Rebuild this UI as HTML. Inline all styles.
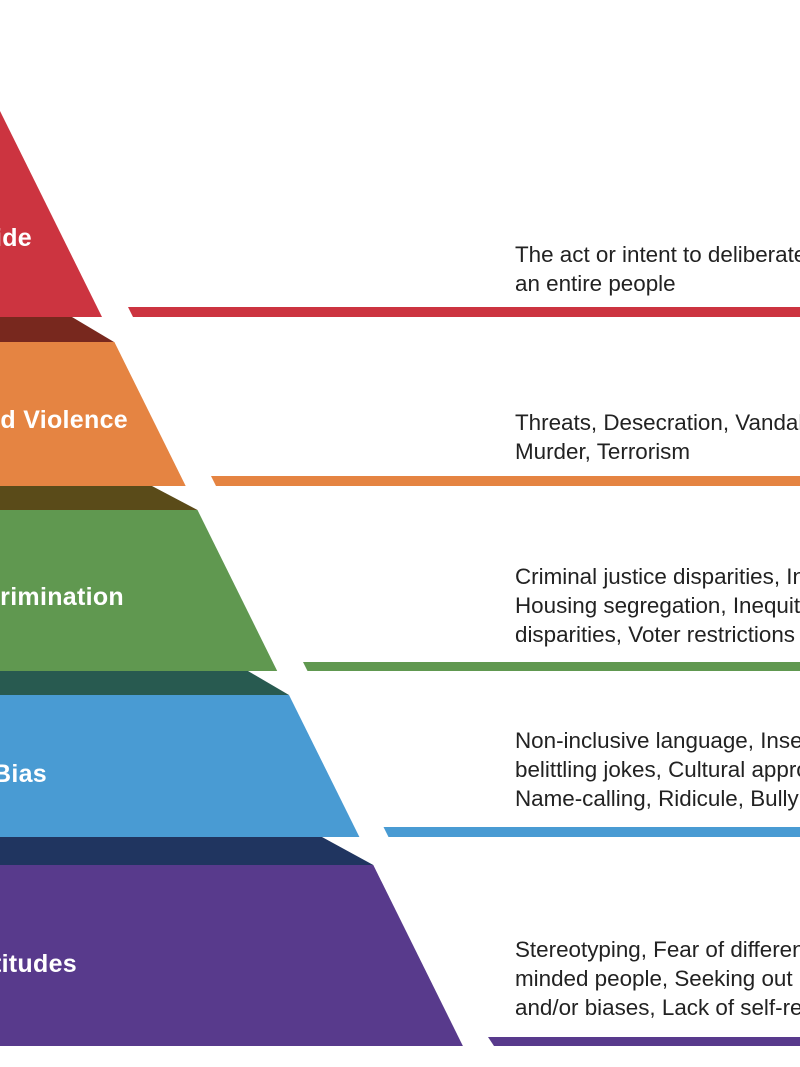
<!DOCTYPE html>
<html>
<head>
<meta charset="utf-8">
<style>
  html,body{margin:0;padding:0;background:#fff;}
  body{width:800px;height:1067px;overflow:hidden;}
  svg{display:block;}
  .lbl{font-family:"Liberation Sans",Arial,sans-serif;font-weight:bold;font-size:25px;letter-spacing:0.3px;fill:#ffffff;}
  .txt{font-family:"Liberation Sans",Arial,sans-serif;font-size:22.4px;fill:#222222;}
</style>
</head>
<body>
<svg width="800" height="1067" viewBox="0 0 800 1067" xmlns="http://www.w3.org/2000/svg">
  <rect x="0" y="0" width="800" height="1067" fill="#ffffff"/>

  <!-- Tier 1: red -->
  <polygon points="0,111 102,317 0,317" fill="#cc3440"/>
  <polygon points="0,317 72,317 114,342 0,342" fill="#78281e"/>
  <!-- Tier 2: orange -->
  <polygon points="0,342 114.4,342 185.7,486 0,486" fill="#e58442"/>
  <polygon points="0,486 152,486 197.5,510 0,510" fill="#5a4b19"/>
  <!-- Tier 3: green -->
  <polygon points="0,510 197.5,510 277.2,671 0,671" fill="#609850"/>
  <polygon points="0,671 248,671 289,695 0,695" fill="#285a50"/>
  <!-- Tier 4: blue -->
  <polygon points="0,695 289,695 359.4,837 0,837" fill="#499bd3"/>
  <polygon points="0,837 322,837 373.3,865 0,865" fill="#203560"/>
  <!-- Tier 5: purple -->
  <polygon points="0,865 373.3,865 462.9,1046 0,1046" fill="#583a8c"/>

  <!-- connector bars -->
  <polygon points="128,307 800,307 800,317 133,317" fill="#cc3440"/>
  <polygon points="211,476 800,476 800,486 216,486" fill="#e58442"/>
  <polygon points="303,662 800,662 800,671 307.5,671" fill="#609850"/>
  <polygon points="383.5,827 800,827 800,837 388.5,837" fill="#499bd3"/>
  <polygon points="488,1037 800,1037 800,1046 494,1046" fill="#583a8c"/>

  <!-- tier labels (cropped on left) -->
  <text class="lbl" x="32" y="246" text-anchor="end">Genocide</text>
  <text class="lbl" x="128" y="428" text-anchor="end">Bias Motivated Violence</text>
  <text class="lbl" x="124" y="605" text-anchor="end">Systemic Discrimination</text>
  <text class="lbl" x="47" y="782" text-anchor="end">Acts of Bias</text>
  <text class="lbl" x="77" y="972" text-anchor="end">Biased Attitudes</text>

  <!-- descriptions -->
  <text class="txt" x="515" y="262">The act or intent to deliberately and systematically annihilate</text>
  <text class="txt" x="515" y="291">an entire people</text>

  <text class="txt" x="515" y="430">Threats, Desecration, Vandalism, Arson, Assault,</text>
  <text class="txt" x="515" y="459">Murder, Terrorism</text>

  <text class="txt" x="515" y="584">Criminal justice disparities, Inequitable school discipline,</text>
  <text class="txt" x="515" y="613">Housing segregation, Inequitable access to healthcare,</text>
  <text class="txt" x="515" y="642">disparities, Voter restrictions</text>

  <text class="txt" x="515" y="748">Non-inclusive language, Insensitive remarks,</text>
  <text class="txt" x="515" y="777">belittling jokes, Cultural appropriation,</text>
  <text class="txt" x="515" y="806">Name-calling, Ridicule, Bullying</text>

  <text class="txt" x="515" y="957">Stereotyping, Fear of differences, Seeking out like-</text>
  <text class="txt" x="515" y="986">minded people, Seeking out information that confirms</text>
  <text class="txt" x="515" y="1015">and/or biases, Lack of self-reflection</text>
</svg>
</body>
</html>
